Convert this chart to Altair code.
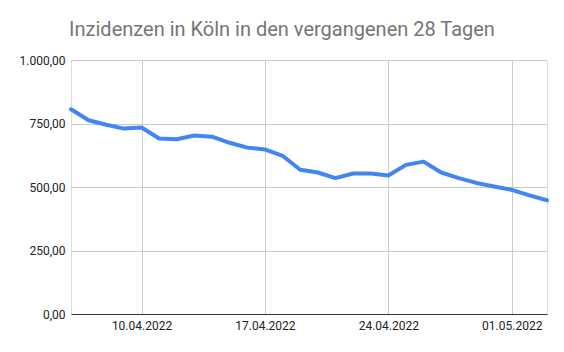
import altair as alt
import pandas as pd

dates = pd.date_range("2022-04-06", "2022-05-03", freq="D").strftime("%Y-%m-%d").tolist()
values = [806, 763, 745, 730, 734, 691, 688, 703, 698, 674, 655, 648, 623, 568,
          557, 535, 553, 553, 545, 587, 600, 557, 535, 516, 502, 489, 467, 448]
y_ticks = [0, 250, 500, 750, 1000]

df = pd.DataFrame({"date": dates, "value": values})

x_ticks = [alt.DateTime(year=2022, month=4, date=10, utc=True),
           alt.DateTime(year=2022, month=4, date=17, utc=True),
           alt.DateTime(year=2022, month=4, date=24, utc=True),
           alt.DateTime(year=2022, month=5, date=1, utc=True)]

label_font = "Roboto"

chart = alt.Chart(df).mark_line(color="#4285F4", strokeWidth=4, strokeJoin="round", strokeCap="round").encode(
    x=alt.X("date:T", title=None,
            scale=alt.Scale(type="utc", nice=False,
                            domain=[alt.DateTime(year=2022, month=4, date=6, utc=True),
                                    alt.DateTime(year=2022, month=5, date=3, utc=True)]),
            axis=alt.Axis(values=x_ticks, format="%d.%m.%Y", ticks=False, grid=True,
                          gridColor="#cccccc", domainColor="#333333", labelColor="#222222",
                          labelFont=label_font, labelFontSize=12, labelPadding=6, labelFlush=False)),
    y=alt.Y("value:Q", title=None,
            scale=alt.Scale(domain=[0, 1000], nice=False),
            axis=alt.Axis(values=y_ticks, ticks=False, domain=False, gridColor="#cccccc",
                          labelColor="#222222", labelFont=label_font, labelFontSize=12, labelPadding=6,
                          labelExpr="replace(replace(replace(format(datum.value, ',.2f'), ',', 'X'), '.', ','), 'X', '.')")),
).properties(
    width=476, height=254,
    title=alt.TitleParams("Inzidenzen in Köln in den vergangenen 28 Tagen", font=label_font,
                          fontSize=20, fontWeight="normal", color="#757575", anchor="middle",
                          dx=-27, offset=14),
    autosize=alt.AutoSizeParams(type="none"),
    padding={"left": 71, "top": 60, "right": 17, "bottom": 38},
).configure_view(stroke=None).configure(background="white")

chart.save("out.html", embed_options={"renderer": "svg", "actions": False})
